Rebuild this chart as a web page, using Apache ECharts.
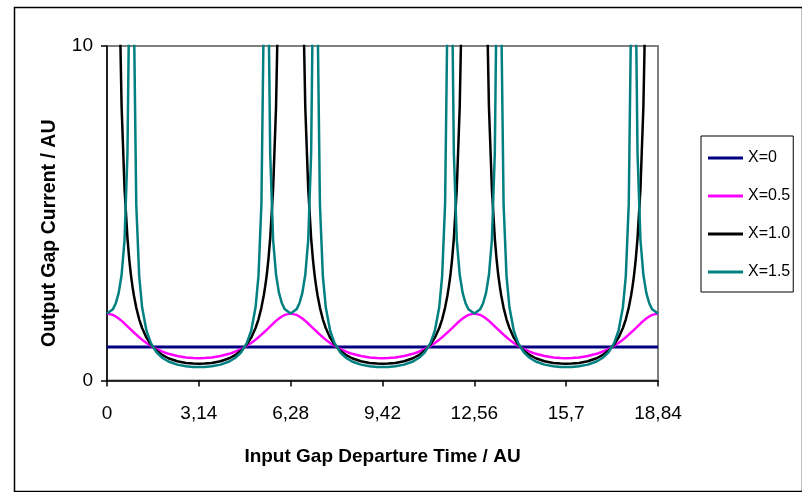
<!DOCTYPE html>
<html>
<head>
<meta charset="utf-8">
<script src="https://cdn.jsdelivr.net/npm/echarts@6/dist/echarts.min.js"></script>
<style>html,body{margin:0;padding:0;background:#fff;}#c{width:802px;height:492px;}</style>
</head>
<body>
<div id="c"></div>
<script>
const xs = [
  0, 0.2, 0.3, 0.4, 0.5, 0.6, 0.7, 0.76, 0.81, 0.84, 0.87, 0.92, 1.0, 1.1, 1.2, 1.35, 1.5, 1.7, 1.9, 2.1, 2.4, 2.7, 2.95, 3.14,
  3.33, 3.58, 3.88, 4.18, 4.38, 4.58, 4.78, 4.93, 5.08, 5.18, 5.28, 5.36, 5.41, 5.44, 5.47, 5.52, 5.58, 5.68, 5.78, 5.88, 5.98, 6.08, 6.28,
  6.48, 6.58, 6.68, 6.78, 6.88, 6.98, 7.04, 7.09, 7.12, 7.15, 7.2, 7.28, 7.38, 7.48, 7.63, 7.78, 7.98, 8.18, 8.38, 8.68, 8.98, 9.23, 9.42,
  9.61, 9.86, 10.16, 10.46, 10.66, 10.86, 11.06, 11.21, 11.36, 11.46, 11.56, 11.64, 11.69, 11.72, 11.75, 11.8, 11.86, 11.96, 12.06, 12.16, 12.26, 12.36, 12.56,
  12.76, 12.86, 12.96, 13.06, 13.16, 13.26, 13.32, 13.37, 13.4, 13.43, 13.48, 13.56, 13.66, 13.76, 13.91, 14.06, 14.26, 14.46, 14.66, 14.96, 15.26, 15.51, 15.7,
  15.89, 16.14, 16.44, 16.74, 16.94, 17.14, 17.34, 17.49, 17.64, 17.74, 17.84, 17.92, 17.97, 18.0, 18.03, 18.08, 18.14, 18.24, 18.34, 18.44, 18.54, 18.64, 18.84
];

const yX0 = [
  1, 1, 1, 1, 1, 1, 1, 1, 1, 1, 1, 1, 1, 1, 1, 1, 1, 1, 1, 1, 1, 1, 1, 1,
  1, 1, 1, 1, 1, 1, 1, 1, 1, 1, 1, 1, 1, 1, 1, 1, 1, 1, 1, 1, 1, 1, 1,
  1, 1, 1, 1, 1, 1, 1, 1, 1, 1, 1, 1, 1, 1, 1, 1, 1, 1, 1, 1, 1, 1, 1,
  1, 1, 1, 1, 1, 1, 1, 1, 1, 1, 1, 1, 1, 1, 1, 1, 1, 1, 1, 1, 1, 1, 1,
  1, 1, 1, 1, 1, 1, 1, 1, 1, 1, 1, 1, 1, 1, 1, 1, 1, 1, 1, 1, 1, 1, 1,
  1, 1, 1, 1, 1, 1, 1, 1, 1, 1, 1, 1, 1, 1, 1, 1, 1, 1, 1, 1, 1, 1, 1
];

const yX05 = [
  2.00, 1.961, 1.914, 1.854, 1.782, 1.703, 1.619, 1.568, 1.526, 1.501, 1.476, 1.435, 1.370, 1.293, 1.221, 1.123, 1.037, 0.939, 0.861, 0.798, 0.731, 0.689, 0.671, 0.667,
  0.671, 0.689, 0.731, 0.798, 0.861, 0.939, 1.037, 1.123, 1.221, 1.293, 1.370, 1.435, 1.476, 1.501, 1.526, 1.568, 1.619, 1.703, 1.782, 1.854, 1.914, 1.961, 2.00,
  1.961, 1.914, 1.854, 1.782, 1.703, 1.619, 1.568, 1.526, 1.501, 1.476, 1.435, 1.370, 1.293, 1.221, 1.123, 1.037, 0.939, 0.861, 0.798, 0.731, 0.689, 0.671, 0.667,
  0.671, 0.689, 0.731, 0.798, 0.861, 0.939, 1.037, 1.123, 1.221, 1.293, 1.370, 1.435, 1.476, 1.501, 1.526, 1.568, 1.619, 1.703, 1.782, 1.854, 1.914, 1.961, 2.00,
  1.961, 1.914, 1.854, 1.782, 1.703, 1.619, 1.568, 1.526, 1.501, 1.476, 1.435, 1.370, 1.293, 1.221, 1.123, 1.037, 0.939, 0.861, 0.798, 0.731, 0.689, 0.671, 0.667,
  0.671, 0.689, 0.731, 0.798, 0.861, 0.939, 1.037, 1.123, 1.221, 1.293, 1.370, 1.435, 1.476, 1.501, 1.526, 1.568, 1.619, 1.703, 1.782, 1.854, 1.914, 1.961, 2.00
];

const yX10 = [
  1000, 50.2, 22.4, 12.67, 8.17, 5.73, 4.25, 3.63, 3.22, 3.01, 2.82, 2.54, 2.18, 1.83, 1.57, 1.28, 1.076, 0.886, 0.756, 0.665, 0.576, 0.525, 0.505, 0.5,
  0.505, 0.525, 0.576, 0.665, 0.756, 0.886, 1.076, 1.28, 1.57, 1.83, 2.18, 2.54, 2.82, 3.01, 3.22, 3.63, 4.25, 5.73, 8.17, 12.67, 22.4, 50.2, 1000,
  50.2, 22.4, 12.67, 8.17, 5.73, 4.25, 3.63, 3.22, 3.01, 2.82, 2.54, 2.18, 1.83, 1.57, 1.28, 1.076, 0.886, 0.756, 0.665, 0.576, 0.525, 0.505, 0.5,
  0.505, 0.525, 0.576, 0.665, 0.756, 0.886, 1.076, 1.28, 1.57, 1.83, 2.18, 2.54, 2.82, 3.01, 3.22, 3.63, 4.25, 5.73, 8.17, 12.67, 22.4, 50.2, 1000,
  50.2, 22.4, 12.67, 8.17, 5.73, 4.25, 3.63, 3.22, 3.01, 2.82, 2.54, 2.18, 1.83, 1.57, 1.28, 1.076, 0.886, 0.756, 0.665, 0.576, 0.525, 0.505, 0.5,
  0.505, 0.525, 0.576, 0.665, 0.756, 0.886, 1.076, 1.28, 1.57, 1.83, 2.18, 2.54, 2.82, 3.01, 3.22, 3.63, 4.25, 5.73, 8.17, 12.67, 22.4, 50.2, 1000
];

const yX15 = [
  2.00, 2.127, 2.309, 2.621, 3.161, 4.20, 6.79, 11.46, 29.2, 840, 30.5, 10.96, 5.28, 3.13, 2.19, 1.489, 1.119, 0.838, 0.673, 0.569, 0.475, 0.424, 0.404, 0.400,
  0.404, 0.424, 0.475, 0.569, 0.673, 0.838, 1.119, 1.489, 2.19, 3.13, 5.28, 10.96, 30.5, 840, 29.2, 11.46, 6.79, 4.20, 3.161, 2.621, 2.309, 2.127, 2.00,
  2.127, 2.309, 2.621, 3.161, 4.20, 6.79, 11.46, 29.2, 840, 30.5, 10.96, 5.28, 3.13, 2.19, 1.489, 1.119, 0.838, 0.673, 0.569, 0.475, 0.424, 0.404, 0.400,
  0.404, 0.424, 0.475, 0.569, 0.673, 0.838, 1.119, 1.489, 2.19, 3.13, 5.28, 10.96, 30.5, 840, 29.2, 11.46, 6.79, 4.20, 3.161, 2.621, 2.309, 2.127, 2.00,
  2.127, 2.309, 2.621, 3.161, 4.20, 6.79, 11.46, 29.2, 840, 30.5, 10.96, 5.28, 3.13, 2.19, 1.489, 1.119, 0.838, 0.673, 0.569, 0.475, 0.424, 0.404, 0.400,
  0.404, 0.424, 0.475, 0.569, 0.673, 0.838, 1.119, 1.489, 2.19, 3.13, 5.28, 10.96, 30.5, 840, 29.2, 11.46, 6.79, 4.20, 3.161, 2.621, 2.309, 2.127, 2.00
];

const seriesNames = ['X=0', 'X=0.5', 'X=1.0', 'X=1.5'];
const seriesColors = ['#000080', '#FF00FF', '#000000', '#008080'];
const xTickLabels = ['0', '3,14', '6,28', '9,42', '12,56', '15,7', '18,84'];
const xStep = 3.14;
const xMax = 18.84;

const allY = [yX0, yX05, yX10, yX15];
const FONT = 'Liberation Sans, Arial, sans-serif';

const chart = echarts.init(document.getElementById('c'), null, {renderer: 'canvas'});
chart.setOption({
  animation: false,
  backgroundColor: '#ffffff',
  graphic: [{
    type: 'rect', left: 12, top: 5, z: -1,
    shape: {width: 788, height: 484},
    style: {fill: 'none', stroke: '#000', lineWidth: 1.5}
  }],
  grid: {left: 107, top: 46, width: 551, height: 334.5, show: true, borderColor: '#808080', borderWidth: 2, backgroundColor: 'transparent'},
  legend: {
    orient: 'vertical', left: 701, top: 136,
    itemWidth: 35, itemHeight: 3, itemGap: 18,
    icon: 'rect',
    padding: [12, 3, 10, 7],
    borderColor: '#000', borderWidth: 1,
    textStyle: {fontFamily: FONT, fontSize: 16, color: '#000', lineHeight: 20},
    data: seriesNames
  },
  xAxis: {
    type: 'value', min: 0, max: xMax, interval: xStep,
    name: 'Input Gap Departure Time / AU', nameLocation: 'middle', nameGap: 67,
    nameTextStyle: {fontFamily: FONT, fontSize: 19, fontWeight: 'bold', color: '#000'},
    axisLine: {onZero: false, lineStyle: {color: '#000', width: 1.5}},
    axisTick: {length: 6, lineStyle: {color: '#000', width: 1.5}},
    axisLabel: {fontFamily: FONT, fontSize: 19, color: '#000', margin: 24,
      formatter: v => xTickLabels[Math.round(v / xStep)]},
    splitLine: {show: false}
  },
  yAxis: {
    type: 'value', min: 0, max: 10, interval: 10,
    name: 'Output Gap Current / AU', nameLocation: 'middle', nameGap: 47,
    nameTextStyle: {fontFamily: FONT, fontSize: 19.5, fontWeight: 'bold', color: '#000', padding: [0, 40, 0, 0]},
    axisLine: {show: true, onZero: false, lineStyle: {color: '#000', width: 1.5}},
    axisTick: {show: true, length: 6, lineStyle: {color: '#000', width: 1.5}},
    axisLabel: {fontFamily: FONT, fontSize: 19, color: '#000', margin: 14},
    splitLine: {show: false}
  },
  series: seriesNames.map((n, k) => ({
    name: n, type: 'line', showSymbol: false, symbol: 'none', clip: true,
    color: seriesColors[k],
    lineStyle: {color: seriesColors[k], width: k === 0 ? 3 : 2.5},
    data: xs.map((x, i) => [x, allY[k][i]])
  }))
});
</script>
</body>
</html>
